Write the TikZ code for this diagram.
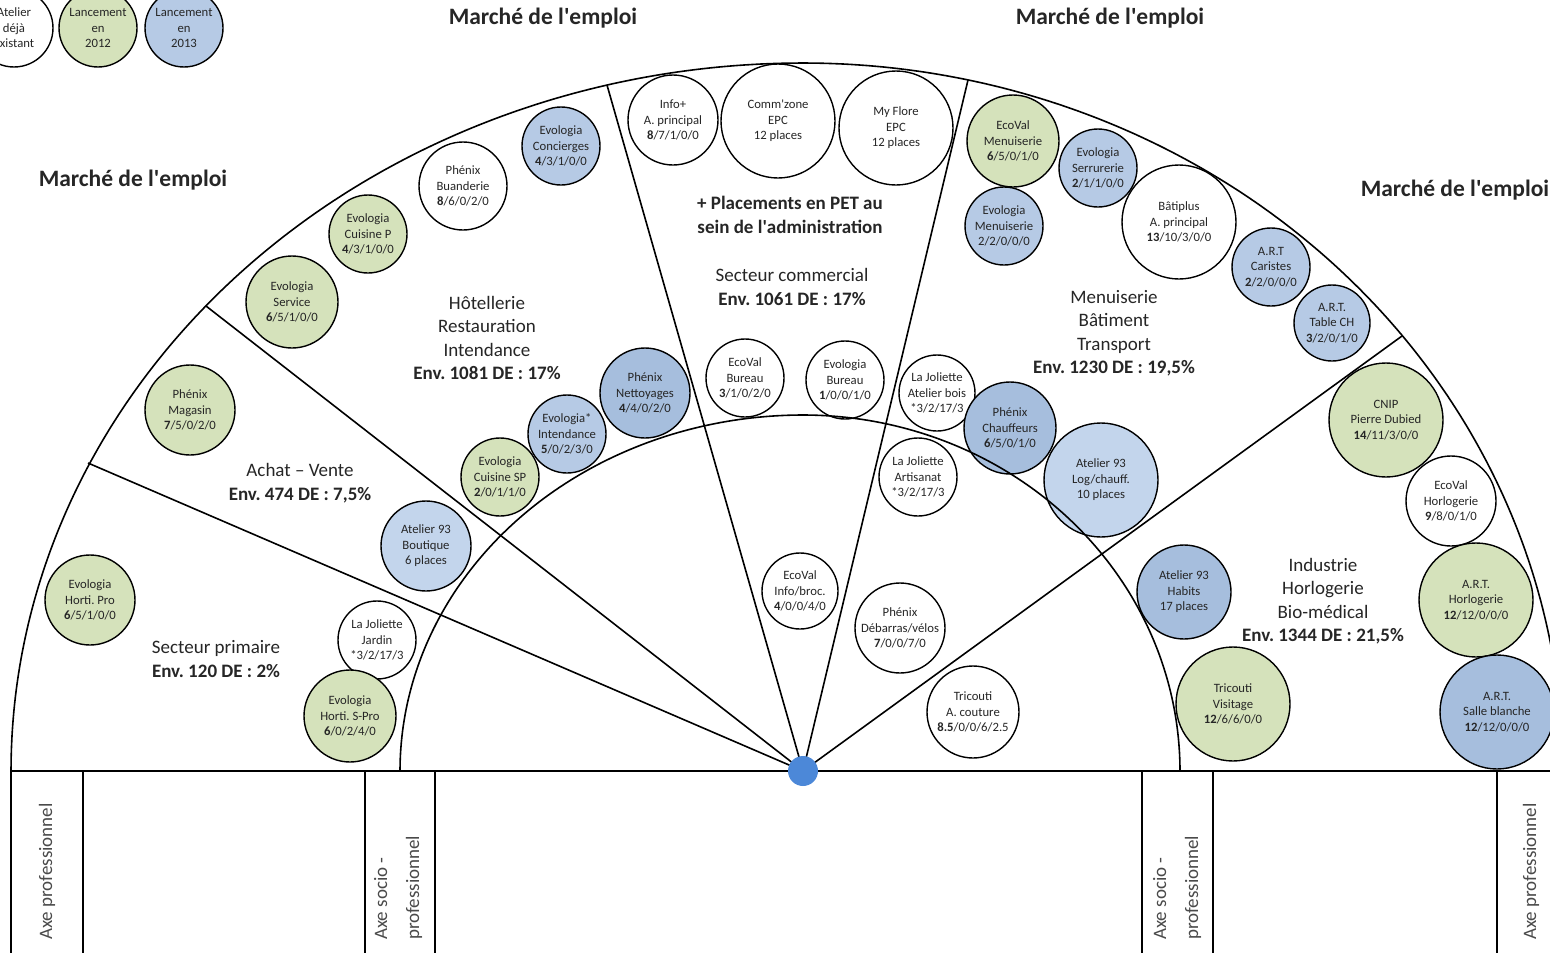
\documentclass[tikz,border=0pt]{standalone}
\usepackage{fontspec}
\setmainfont{Carlito}
\frenchspacing
\definecolor{gr}{HTML}{D5E2BB}
\definecolor{bl}{HTML}{B6CAE5}
\definecolor{bd}{HTML}{A6BEDD}
\definecolor{bll}{HTML}{C3D5EC}
\definecolor{dotblue}{HTML}{4C88D8}
\definecolor{txt}{HTML}{262626}
\definecolor{axtxt}{HTML}{4A4A4A}
\newcommand{\q}{\textquotesingle}
\tikzset{
  bubble/.style={circle, draw=black, line width=1.4pt, inner sep=0pt},
  btext/.style={align=center, text=txt, font=\fontsize{12.7}{15.5}\selectfont, inner sep=0pt},
  sector/.style={align=center, text=txt, font=\fontsize{19}{23.5}\selectfont},
  title/.style={text=txt, font=\bfseries\fontsize{23.5}{28}\selectfont},
  axe/.style={rotate=90, anchor=west, align=left, text=axtxt, font=\fontsize{19}{32}\selectfont, inner sep=0pt},
  rule/.style={line width=1.6pt},
  thin/.style={line width=1.2pt},
  thick/.style={line width=2.6pt},
}
\newcommand{\bub}[6]{%
  \node[bubble, fill=#2, minimum size=#5*2pt] (#1) at (#3,#4) {};
  \node[btext] (#1t) at (#1) {#6};}
\begin{document}
\begin{tikzpicture}[x=1pt,y=-1pt]
\clip (0,0) rectangle (1550,953);
\fill[white] (0,0) rectangle (1550,953);
\coordinate (O) at (803,771);
% outer arc
\draw[rule] plot[domain=180:90, samples=150] ({803+792*cos(\x)},{771-708*sin(\x)});
\draw[rule] plot[domain=90:0, samples=150] ({803+760*cos(\x)},{771-708*sin(\x)});
% sector lines
\coordinate (s1) at (88,463);
\coordinate (s2) at (206,306);
\coordinate (s3) at (607,85);
\coordinate (s4) at (968,80);
\coordinate (s5) at (1402,336);
\foreach \p in {s1,s2,s3,s4,s5} \draw[rule] (O) -- (\p);
% baseline and axis boxes
\draw[line width=2.2pt] (11,771) -- (1550,771);
\draw[thin] (11,771) -- (11,953);
\draw[thick] (83,771) -- (83,953);
\draw[thin] (365,771) -- (365,953);
\draw[thick] (435,771) -- (435,953);
\draw[thin] (1142,771) -- (1142,953);
\draw[thick] (1213,771) -- (1213,953);
\draw[thin] (1497,771) -- (1497,953);
\node[axe] (ax1) at (47,940) {Axe professionnel};
\node[axe] (ax2) at (398,940) {Axe socio -\\professionnel};
\node[axe] (ax3) at (1177,940) {Axe socio -\\professionnel};
\node[axe] (ax4) at (1531,940) {Axe professionnel};
% titles
\node[title] (t1) at (543,18) {Marché de l\q emploi};
\node[title] (t2) at (1110,18) {Marché de l\q emploi};
\node[title] (t3) at (133,180) {Marché de l\q emploi};
\node[title] (t4) at (1455,190) {Marché de l\q emploi};
% legend
\bub{lg1}{white}{14}{28}{39}{Atelier\\déjà\\existant}
\bub{lg2}{gr}{98}{28}{39}{Lancement\\en\\2012}
\bub{lg3}{bl}{184}{28}{39}{Lancement\\en\\2013}
% sector labels
\node[sector] (hot) at (487,338) {Hôtellerie\\Restauration\\Intendance\\\textbf{Env. 1081 DE : 17\%}};
\node[sector] (ach) at (300,483) {Achat -- Vente\\\textbf{Env. 474 DE : 7,5\%}};
\node[sector] (pri) at (216,659) {Secteur primaire\\\textbf{Env. 120 DE : 2\%}};
\node[sector, font=\bfseries\fontsize{19}{23.5}\selectfont] (pet) at (790,215) {+ Placements en PET au\\sein de l\q administration};
\node[sector] (com) at (792,287) {Secteur commercial\\\textbf{Env. 1061 DE : 17\%}};
\node[sector] (men) at (1114,333) {Menuiserie\\Bâtiment\\Transport\\\textbf{Env. 1230 DE : 19,5\%}};
\node[sector] (ind) at (1323,601) {Industrie\\Horlogerie\\Bio-médical\\\textbf{Env. 1344 DE : 21,5\%}};
% Hotellerie
\bub{c1}{bl}{561}{146}{39}{Evologia\\Concierges\\\textbf{4}/3/1/0/0}
\bub{c2}{white}{463}{186}{44}{Phénix\\Buanderie\\\textbf{8}/6/0/2/0}
\bub{c3}{gr}{368}{234}{39}{Evologia\\Cuisine P\\\textbf{4}/3/1/0/0}
\bub{c4}{gr}{292}{302}{46}{Evologia\\Service\\\textbf{6}/5/1/0/0}
\bub{c5}{bd}{645}{393}{45}{Phénix\\Nettoyages\\\textbf{4}/4/0/2/0}
\bub{c6}{bl}{567}{434}{39}{Evologia*\\Intendance\\\textbf{5}/0/2/3/0}
\bub{c7}{gr}{500}{477}{39}{Evologia\\Cuisine SP\\\textbf{2}/0/1/1/0}
\bub{c8}{bll}{426}{546}{45}{Atelier 93\\Boutique\\6 places}
% Achat
\bub{c9}{gr}{190}{410}{45}{Phénix\\Magasin\\\textbf{7}/5/0/2/0}
% Primaire
\bub{c10}{gr}{90}{600}{45}{Evologia\\Horti. Pro\\\textbf{6}/5/1/0/0}
\bub{c11}{white}{377}{640}{39}{La Joliette\\Jardin\\*3/2/17/3}
\bub{c12}{gr}{350}{716}{46}{Evologia\\Horti. S-Pro\\\textbf{6}/0/2/4/0}
% Commercial
\bub{c13}{white}{673}{120}{45}{Info+\\A. principal\\\textbf{8}/7/1/0/0}
\bub{c14}{white}{778}{121}{57}{Comm\q zone\\EPC\\12 places}
\bub{c15}{white}{896}{128}{57}{My Flore\\EPC\\12 places}
\bub{c16}{white}{745}{378}{39}{EcoVal\\Bureau\\\textbf{3}/1/0/2/0}
\bub{c17}{white}{845}{380}{39}{Evologia\\Bureau\\\textbf{1}/0/0/1/0}
\bub{c18}{white}{800}{591}{38}{EcoVal\\Info/broc.\\\textbf{4}/0/0/4/0}
\bub{c19}{white}{900}{628}{45}{Phénix\\Débarras/vélos\\\textbf{7}/0/0/7/0}
\bub{c20}{white}{937}{393}{38}{La Joliette\\Atelier bois\\*3/2/17/3}
\bub{c21}{white}{918}{477}{39}{La Joliette\\Artisanat\\*3/2/17/3}
% Menuiserie
\bub{c22}{gr}{1013}{141}{46}{EcoVal\\Menuiserie\\\textbf{6}/5/0/1/0}
\bub{c23}{bl}{1098}{168}{39}{Evologia\\Serrurerie\\\textbf{2}/1/1/0/0}
\bub{c24}{bl}{1004}{226}{39}{Evologia\\Menuiserie\\2/2/0/0/0}
\bub{c25}{white}{1179}{222}{57}{Bâtiplus\\A. principal\\\textbf{13}/10/3/0/0}
\bub{c26}{bl}{1271}{267}{39}{A.R.T\\Caristes\\\textbf{2}/2/0/0/0}
\bub{c27}{bl}{1332}{323}{38}{A.R.T.\\Table CH\\\textbf{3}/2/0/1/0}
\bub{c28}{bd}{1010}{428}{46}{Phénix\\Chauffeurs\\\textbf{6}/5/0/1/0}
\bub{c29}{bll}{1101}{480}{57}{Atelier 93\\Log/chauff.\\10 places}
% Industrie
\bub{c30}{gr}{1386}{420}{57}{CNIP\\Pierre Dubied\\\textbf{14}/11/3/0/0}
\bub{c31}{white}{1451}{501}{45}{EcoVal\\Horlogerie\\\textbf{9}/8/0/1/0}
\bub{c32}{gr}{1476}{600}{57}{A.R.T.\\Horlogerie\\\textbf{12}/12/0/0/0}
\bub{c33}{bd}{1497}{712}{57}{A.R.T.\\Salle blanche\\\textbf{12}/12/0/0/0}
\bub{c34}{bd}{1184}{592}{47}{Atelier 93\\Habits\\17 places}
\bub{c35}{gr}{1233}{704}{57}{Tricouti\\Visitage\\\textbf{12}/6/6/0/0}
\bub{c36}{white}{973}{712}{46}{Tricouti\\A. couture\\\textbf{8.5}/0/0/6/2.5}
% inner arc
\draw[rule] plot[domain=180:90, samples=100] ({803+403*cos(\x)},{771-356*sin(\x)});
\draw[rule] plot[domain=90:0, samples=100] ({803+377*cos(\x)},{771-356*sin(\x)});
% centre dot
\node[circle, fill=dotblue, minimum size=30pt, inner sep=0pt] (dot) at (O) {};
\end{tikzpicture}
\end{document}
